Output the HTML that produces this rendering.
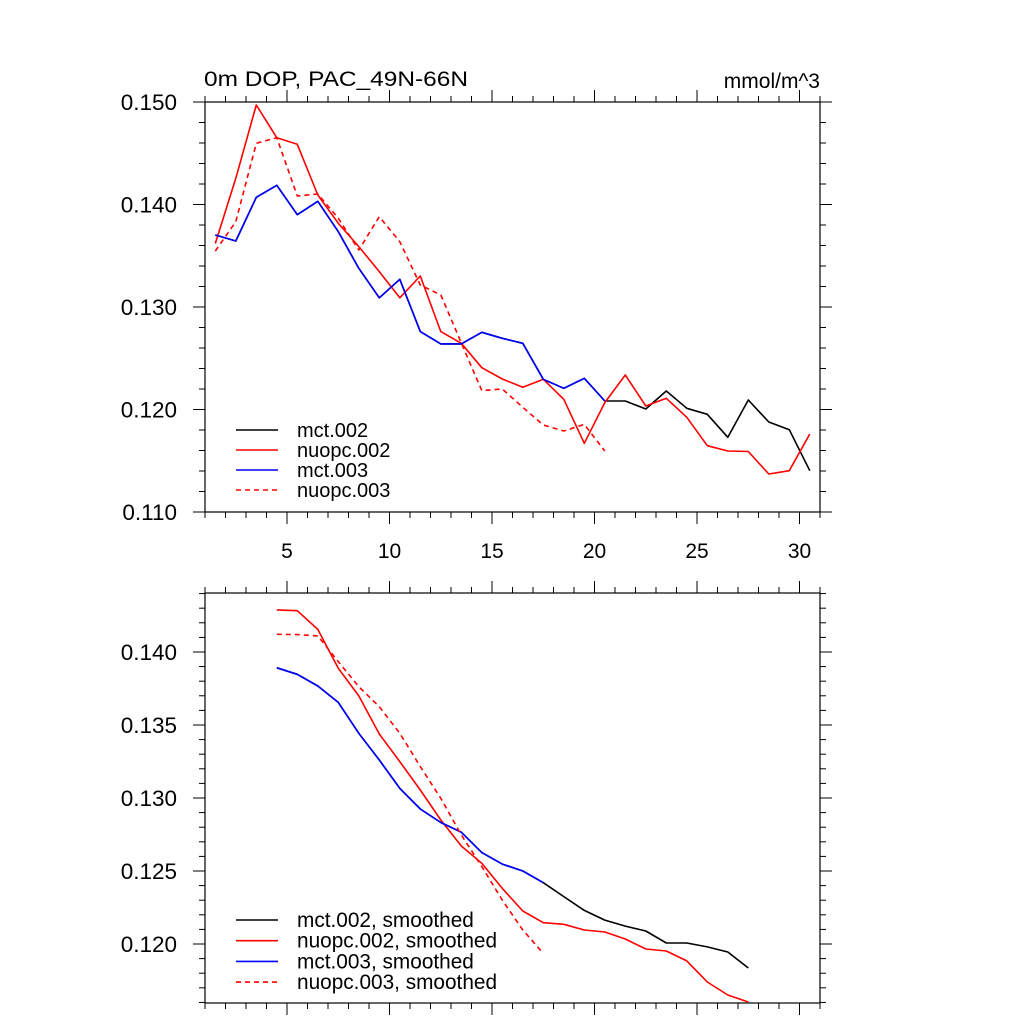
<!DOCTYPE html>
<html><head><meta charset="utf-8"><style>
html,body{margin:0;padding:0;background:#fff;}
svg{display:block;font-family:"Liberation Sans",sans-serif;}
</style></head><body>
<svg id="chart" width="1024" height="1024" viewBox="0 0 1024 1024" xmlns="http://www.w3.org/2000/svg">
<rect width="1024" height="1024" fill="#fff"/>
<text x="204" y="86" font-size="21" textLength="264" lengthAdjust="spacingAndGlyphs">0m DOP, PAC_49N-66N</text>
<text x="820" y="88" font-size="21" text-anchor="end">mmol/m^3</text>
</svg>
<script>
const xTop = [1.5,2.5,3.5,4.5,5.5,6.5,7.5,8.5,9.5,10.5,11.5,12.5,13.5,14.5,15.5,16.5,17.5,18.5,19.5,20.5,21.5,22.5,23.5,24.5,25.5,26.5,27.5,28.5,29.5,30.5];
const mct002 = [0.13702,0.13644,0.1407,0.14187,0.1390,0.14031,0.13735,0.13378,0.1309,0.1327,0.1276,0.1264,0.1264,0.12753,0.12695,0.12646,0.12295,0.12207,0.12304,0.12083,0.12083,0.12005,0.1218,0.12012,0.11953,0.11729,0.12093,0.11878,0.11803,0.11403];
const nuopc002 = [0.1362,0.14256,0.14971,0.14652,0.14587,0.14093,0.13817,0.13589,0.13345,0.1309,0.13302,0.1276,0.12646,0.12408,0.12298,0.12217,0.12295,0.1210,0.1167,0.12067,0.12337,0.12034,0.12109,0.11924,0.11647,0.11595,0.1159,0.11371,0.11403,0.11761];
const mct003 = [0.13702,0.13644,0.1407,0.14187,0.1390,0.14031,0.13735,0.13378,0.1309,0.1327,0.1276,0.1264,0.1264,0.12753,0.12695,0.12646,0.12295,0.12207,0.12304,0.12083];
const nuopc003 = [0.13546,0.13832,0.14597,0.14652,0.14083,0.14102,0.13865,0.13556,0.13881,0.13637,0.13215,0.13117,0.1265,0.12184,0.122,0.12021,0.11849,0.1179,0.11855,0.11595];
const xBot = [4.5,5.5,6.5,7.5,8.5,9.5,10.5,11.5,12.5,13.5,14.5,15.5,16.5,17.5,18.5,19.5,20.5,21.5,22.5,23.5,24.5,25.5,26.5,27.5];
const mct002s = [0.13892,0.13847,0.13767,0.13655,0.13443,0.1326,0.13066,0.12925,0.12832,0.12766,0.12626,0.12547,0.125,0.1242,0.12325,0.1223,0.12164,0.12123,0.12089,0.12007,0.12007,0.1198,0.11945,0.11836];
const nuopc002s = [0.14288,0.14283,0.14155,0.13888,0.13699,0.13438,0.13249,0.13055,0.12849,0.12671,0.12553,0.12381,0.12226,0.12146,0.12135,0.12096,0.12082,0.12034,0.11966,0.11952,0.11884,0.1174,0.11651,0.11603];
const mct003s = [0.13892,0.13847,0.13767,0.13655,0.13443,0.1326,0.13066,0.12925,0.12832,0.12766,0.12626,0.12547,0.125,0.1242];
const nuopc003s = [0.14121,0.14119,0.1411,0.13934,0.13762,0.13625,0.13443,0.13215,0.12998,0.12747,0.1253,0.12301,0.12096,0.11936];
const xTickLabels = [5,10,15,20,25,30];
const yTopLabels = [0.110,0.120,0.130,0.140,0.150];
const yBotLabels = [0.120,0.125,0.130,0.135,0.140];
const legendTop = ["mct.002","nuopc.002","mct.003","nuopc.003"];
const legendBot = ["mct.002, smoothed","nuopc.002, smoothed","mct.003, smoothed","nuopc.003, smoothed"];

const svg = document.getElementById('chart');
const NS = 'http://www.w3.org/2000/svg';
function mk(tag, attrs, parent){const e=document.createElementNS(NS,tag);for(const k in attrs)e.setAttribute(k,attrs[k]);(parent||svg).appendChild(e);return e;}

const L=205,R=820;
const xMin=1,xMax=31;
const sx = v => L+(v-xMin)/(xMax-xMin)*(R-L);

function panel(name, top, bot, yMin, yMax, yMinor, yMajorLabels, showX){
  const sy = v => bot-(v-yMin)/(yMax-yMin)*(bot-top);
  const g = mk('g',{});
  
  
  for(let x=1;x<=31;x++){
    const major = x%5===0; const len = major?12:6;
    const px = sx(x);
    const t1 = mk('line',{x1:px,x2:px,y1:bot,y2:bot+len,stroke:'#000','stroke-width':1},g);
    
    
    const t2 = mk('line',{x1:px,x2:px,y1:top,y2:top-len,stroke:'#000','stroke-width':1},g);
    
    
  }
  if(showX){
    xTickLabels.forEach(v=>{
      const t = mk('text',{x:sx(v),y:bot+46,'font-size':21,'text-anchor':'middle'},g);
      t.textContent=v;
      
      
    });
  }
  const start = Math.ceil(yMin/yMinor - 1e-6);
  for(let i=start;i*yMinor<=yMax+1e-9;i++){
    const v=i*yMinor;
    const major = yMajorLabels.some(m=>Math.abs(m-v)<1e-9);
    const len = major?12:6;
    const py = sy(v);
    const t1 = mk('line',{x1:L,x2:L-len,y1:py,y2:py,stroke:'#000','stroke-width':1},g);
    
    
    const t2 = mk('line',{x1:R,x2:R+len,y1:py,y2:py,stroke:'#000','stroke-width':1},g);
    
    
  }
  yMajorLabels.forEach(v=>{
    const t = mk('text',{x:177,y:sy(v)+8,'font-size':22.5,'text-anchor':'end'},g);
    t.textContent=v.toFixed(3);
    
    
  });
  const fr = mk('rect',{x:L,y:top,width:R-L,height:bot-top,fill:'none',stroke:'#000','stroke-width':1.2},g);
  
  
  return sy;
}

function series(xs, ys, sy, color, dash, name){
  const pts = ys.map((v,i)=>sx(xs[i]).toFixed(1)+','+sy(v).toFixed(1)).join(' ');
  const p = mk('polyline',{points:pts,fill:'none',stroke:color,'stroke-width':1.6,'stroke-linejoin':'round'});
  if(dash) p.setAttribute('stroke-dasharray','5,4');
  
  
}

function legend(labels, y0, dy, fs, name){
  const colors=['#000','#f00','#00f','#f00'];
  const g = mk('g',{});
  
  
  labels.forEach((lab,i)=>{
    const y=y0+i*dy;
    const ln = mk('line',{x1:236,x2:278,y1:y,y2:y,stroke:colors[i],'stroke-width':1.6},g);
    if(i===3) ln.setAttribute('stroke-dasharray','5,4');
    
    
    const t = mk('text',{x:297,y:y+7,'font-size':fs},g);
    t.textContent=lab;
    
    
  });
}

const syT = panel('top-panel',102,512,0.110,0.150,0.002,yTopLabels,true);
series(xTop, mct002, syT, '#000', false, 'line-mct002');
series(xTop, nuopc002, syT, '#f00', false, 'line-nuopc002');
series(xTop, mct003, syT, '#00f', false, 'line-mct003');
series(xTop, nuopc003, syT, '#f00', true, 'line-nuopc003');
legend(legendTop, 430, 20, 20, 'legend-top');

const syB = panel('bottom-panel',593,1003,0.11596,0.14404,0.001,yBotLabels,false);
series(xBot, mct002s, syB, '#000', false, 'line-mct002-smoothed');
series(xBot, nuopc002s, syB, '#f00', false, 'line-nuopc002-smoothed');
series(xBot, mct003s, syB, '#00f', false, 'line-mct003-smoothed');
series(xBot, nuopc003s, syB, '#f00', true, 'line-nuopc003-smoothed');
legend(legendBot, 920, 20.7, 20.8, 'legend-bottom');
</script>
</body></html>
